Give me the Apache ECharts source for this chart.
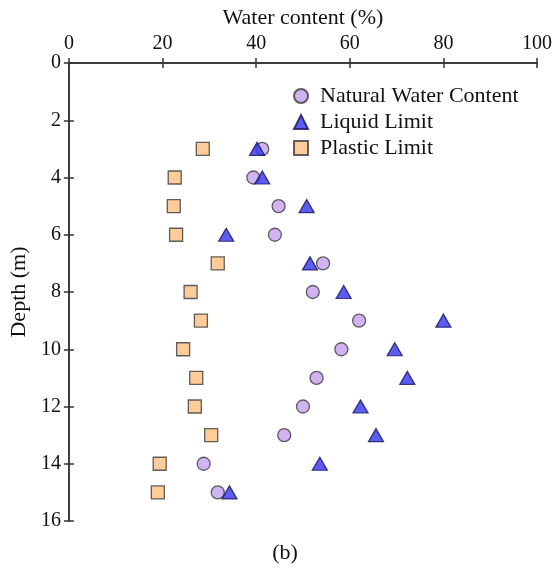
<!DOCTYPE html>
<html>
<head>
<meta charset="utf-8">
<script src="https://cdn.jsdelivr.net/npm/echarts@6/dist/echarts.min.js"></script>
<style>
  html, body { margin: 0; padding: 0; background: #fff; }
  #chart { width: 556px; height: 569px; }
</style>
</head>
<body>
<div id="chart"></div>
<script>
// depth of each sample (m)
const depths = [3, 4, 5, 6, 7, 8, 9, 10, 11, 12, 13, 14, 15];
// water contents (%)
const naturalWater = [41.3, 39.4, 44.8, 44.0, 54.3, 52.1, 62.0, 58.2, 52.9, 50.0, 46.0, 28.8, 31.8];
const liquidLimit = [40.2, 41.3, 50.8, 33.6, 51.5, 58.7, 80.0, 69.6, 72.3, 62.3, 65.6, 53.6, 34.3];
const plasticLimit = [28.6, 22.6, 22.4, 22.9, 31.8, 26.0, 28.2, 24.4, 27.2, 26.9, 30.4, 19.4, 19.0];

const font = 'Liberation Serif';
const axisColor = '#333';
const textColor = '#111';

const chartDom = document.getElementById('chart');
const myChart = echarts.init(chartDom);

const pairs = (vals) => vals.map((v, i) => [v, depths[i]]);

const option = {
    animation: false,
    graphic: [
        {
            type: 'text',
            x: 285,
            y: 553,
            style: {
                text: '(b)',
                font: '22px "Liberation Serif"',
                fill: textColor,
                textAlign: 'center',
                textVerticalAlign: 'middle'
            }
        }
    ],
    legend: {
        orient: 'vertical',
        left: 288,
        top: 80,
        itemWidth: 14,
        itemHeight: 14,
        itemGap: 4,
        textStyle: { fontFamily: font, fontSize: 22, color: textColor, padding: [0, 0, 0, 7] },
        data: ['Natural Water Content', 'Liquid Limit', 'Plastic Limit']
    },
    grid: {
        left: 68,
        right: 19,
        top: 63,
        bottom: 48
    },
    xAxis: [
        {
            type: 'value',
            position: 'top',
            min: 0,
            max: 100,
            interval: 20,
            name: 'Water content (%)',
            nameLocation: 'middle',
            nameGap: 34,
            nameTextStyle: { fontFamily: font, fontSize: 22, color: textColor },
            axisLine: { show: true, lineStyle: { color: axisColor, width: 1.5 } },
            axisTick: { show: true, length: 5, lineStyle: { color: axisColor, width: 1.5 } },
            axisLabel: { fontFamily: font, fontSize: 20, color: textColor, margin: 9 },
            splitLine: { show: false }
        },
        {
            type: 'value',
            position: 'bottom',
            min: 0,
            max: 100,
            interval: 20,
            axisLine: { show: true, lineStyle: { color: axisColor, width: 1.5 } },
            axisTick: { show: true, length: 5, lineStyle: { color: axisColor, width: 1.5 } },
            axisLabel: { show: false },
            splitLine: { show: false }
        }
    ],
    yAxis: [
        {
            type: 'value',
            position: 'left',
            inverse: true,
            min: 0,
            max: 16,
            interval: 2,
            name: 'Depth (m)',
            nameLocation: 'middle',
            nameGap: 35,
            nameTextStyle: { fontFamily: font, fontSize: 22, color: textColor },
            axisLine: { show: true, lineStyle: { color: axisColor, width: 1.5 } },
            axisTick: { show: true, length: 5, lineStyle: { color: axisColor, width: 1.5 } },
            axisLabel: { fontFamily: font, fontSize: 20, color: textColor, margin: 8 },
            splitLine: { show: false }
        },
        {
            type: 'value',
            position: 'right',
            inverse: true,
            min: 0,
            max: 16,
            interval: 2,
            axisLine: { show: true, lineStyle: { color: axisColor, width: 1.5 } },
            axisTick: { show: true, length: 5, lineStyle: { color: axisColor, width: 1.5 } },
            axisLabel: { show: false },
            splitLine: { show: false }
        }
    ],
    series: [
        {
            name: 'Natural Water Content',
            type: 'scatter',
            symbol: 'circle',
            symbolSize: 13,
            itemStyle: { color: '#c7a0ee', borderColor: '#3a3a3a', borderWidth: 1.3 },
            data: pairs(naturalWater)
        },
        {
            name: 'Liquid Limit',
            type: 'scatter',
            symbol: 'triangle',
            symbolSize: [15, 13],
            itemStyle: { color: '#3535f0', borderColor: '#151560', borderWidth: 1.3 },
            data: pairs(liquidLimit)
        },
        {
            name: 'Plastic Limit',
            type: 'scatter',
            symbol: 'rect',
            symbolSize: 13,
            itemStyle: { color: '#fdbf80', borderColor: '#3a3a3a', borderWidth: 1.3 },
            data: pairs(plasticLimit)
        }
    ]
};

myChart.setOption(option);
</script>
</body>
</html>
